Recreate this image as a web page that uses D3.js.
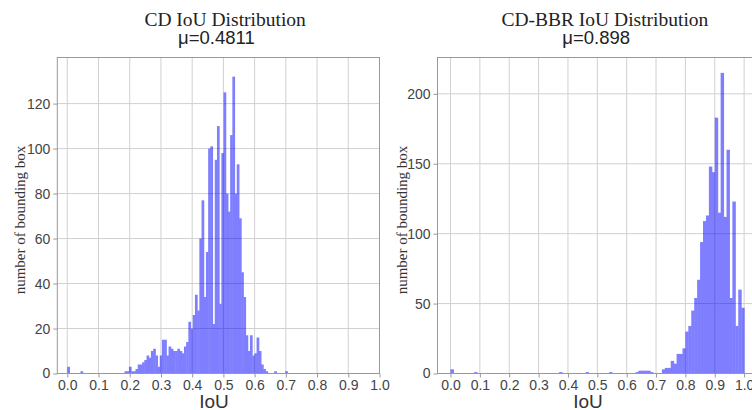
<!DOCTYPE html>
<html>
<head>
<meta charset="utf-8">
<script src="https://cdn.jsdelivr.net/npm/d3@7/dist/d3.min.js"></script>
<style>
  body { margin: 0; background: #fff; }
  svg { display: block; }
  .axis text { font-family: "Liberation Sans", Arial, sans-serif; font-size: 14px; fill: #444; }
  .axis line { stroke: #999; }
  .grid line { stroke: #d0d0d0; stroke-width: 1; }
  .title { font-family: "Liberation Serif", "Times New Roman", serif; font-size: 19.5px; fill: #222; }
  .mean { font-family: "Liberation Sans", Arial, sans-serif; font-size: 18.5px; fill: #222; }
  .xlabel { font-family: "Liberation Sans", Arial, sans-serif; font-size: 19px; fill: #333; }
  .ylabel { font-family: "Liberation Serif", "Times New Roman", serif; font-size: 15px; fill: #333; }
</style>
</head>
<body>
<svg width="752" height="410"></svg>
<script>
// shared x ticks
var xTicks = [0.0, 0.1, 0.2, 0.3, 0.4, 0.5, 0.6, 0.7, 0.8, 0.9, 1.0];

// CD histogram (100 bins starting at 0)
var cdBinWidth = 0.00705;
var cdCounts = [
  3, 0, 0, 0, 0, 0, 1, 0, 0, 0,
  0, 0, 0, 0, 0, 0, 0, 0, 0, 0,
  0, 0, 0, 0, 0, 0, 1, 1, 3, 1,
  1, 2, 4, 4, 5, 6, 8, 7, 10, 11,
  8, 3, 8, 15, 15, 8, 12, 11, 10, 10,
  11, 10, 9, 12, 14, 23, 20, 26, 35, 28,
  60, 77, 34, 54, 100, 101, 22, 95, 110, 31,
  98, 125, 80, 72, 106, 132, 80, 93, 69, 45,
  34, 17, 10, 17, 8, 9, 16, 10, 4, 2,
  1, 0, 0, 0, 1, 0, 0, 0, 0, 1
];
var cdYTicks = [0, 20, 40, 60, 80, 100, 120];

// CD-BBR histogram (100 bins starting at 0)
var bbrBinWidth = 0.01;
var bbrCounts = [
  3, 0, 0, 0, 0, 0, 0, 0, 1, 0,
  0, 0, 0, 0, 0, 0, 0, 0, 0, 0,
  0, 0, 0, 0, 0, 0, 0, 0, 0, 0,
  0, 0, 0, 0, 0, 0, 0, 1, 0, 0,
  0, 0, 0, 0, 0, 0, 1, 0, 0, 0,
  0, 0, 0, 0, 1, 0, 0, 0, 0, 0,
  0, 0, 0, 1, 2, 2, 2, 2, 1, 0,
  0, 0, 3, 4, 4, 9, 7, 14, 14, 18,
  30, 34, 45, 54, 67, 94, 109, 113, 148, 144,
  183, 115, 215, 112, 160, 54, 123, 34, 60, 47
];
var bbrYTicks = [0, 50, 100, 150, 200];

var svg = d3.select("svg"),
    plotTop = 57.5,
    plotBottom = 373.5;

function drawPanel(p) {
  var x = d3.scaleLinear().domain(p.xDomain).range([p.left, p.right]);
  var y = d3.scaleLinear().domain([0, p.yMax]).range([plotBottom, plotTop]);
  var cx = (p.left + p.right) / 2;

  var g = svg.append("g");

  // grid
  var grid = g.append("g").attr("class", "grid");
  grid.selectAll("line.v")
      .data(xTicks)
      .enter().append("line")
      .attr("class", "v")
      .attr("x1", function(d) { return x(d); })
      .attr("x2", function(d) { return x(d); })
      .attr("y1", plotTop)
      .attr("y2", plotBottom);
  grid.selectAll("line.h")
      .data(p.yTicks)
      .enter().append("line")
      .attr("class", "h")
      .attr("x1", p.left)
      .attr("x2", p.right)
      .attr("y1", function(d) { return y(d); })
      .attr("y2", function(d) { return y(d); });

  // bars, alpha like matplotlib
  g.append("g")
      .attr("opacity", 0.5)
      .selectAll("rect")
      .data(p.counts.map(function(c, i) { return {i: i, c: c}; }).filter(function(d) { return d.c > 0; }))
      .enter().append("rect")
      .attr("x", function(d) { return x(d.i * p.binWidth); })
      .attr("width", function(d) { return x((d.i + 1) * p.binWidth) - x(d.i * p.binWidth) + 0.5; })
      .attr("y", function(d) { return y(d.c); })
      .attr("height", function(d) { return y(0) - y(d.c); })
      .attr("fill", "#0000ff");

  // axes
  var xAxis = g.append("g")
      .attr("class", "axis")
      .attr("transform", "translate(0," + plotBottom + ")")
      .call(d3.axisBottom(x).tickValues(xTicks).tickFormat(d3.format(".1f")).tickSize(4).tickPadding(3));
  xAxis.select(".domain").remove();

  var yAxis = g.append("g")
      .attr("class", "axis")
      .attr("transform", "translate(" + p.left + ",0)")
      .call(d3.axisLeft(y).tickValues(p.yTicks).tickSize(4).tickPadding(3));
  yAxis.select(".domain").remove();

  // spines
  g.append("rect")
      .attr("x", p.left)
      .attr("y", plotTop)
      .attr("width", p.right - p.left)
      .attr("height", plotBottom - plotTop)
      .attr("fill", "none")
      .attr("stroke", "#999");

  // titles
  g.append("text").attr("class", "title")
      .attr("x", cx + 6.7).attr("y", 25.5)
      .attr("text-anchor", "middle")
      .text(p.title);
  g.append("text").attr("class", "mean")
      .attr("x", cx - 2).attr("y", 43.5)
      .attr("text-anchor", "middle")
      .text(p.mean);

  g.append("text").attr("class", "xlabel")
      .attr("x", p.xLabelX).attr("y", 408)
      .attr("text-anchor", "middle")
      .text("IoU");

  g.append("text").attr("class", "ylabel")
      .attr("transform", "translate(" + p.yLabelX + ",220) rotate(-90)")
      .attr("text-anchor", "middle")
      .text("number of bounding box");
}

drawPanel({
  left: 57.3, right: 379.5, xDomain: [-0.032, 1.0],
  yMax: 140.5, yTicks: cdYTicks,
  counts: cdCounts, binWidth: cdBinWidth,
  title: "CD IoU Distribution", mean: "μ=0.4811",
  xLabelX: 214, yLabelX: 25
});

drawPanel({
  left: 437.5, right: 758.8, xDomain: [-0.0443, 1.05],
  yMax: 226, yTicks: bbrYTicks,
  counts: bbrCounts, binWidth: bbrBinWidth,
  title: "CD-BBR IoU Distribution", mean: "μ=0.898",
  xLabelX: 588, yLabelX: 407
});
</script>
</body>
</html>
